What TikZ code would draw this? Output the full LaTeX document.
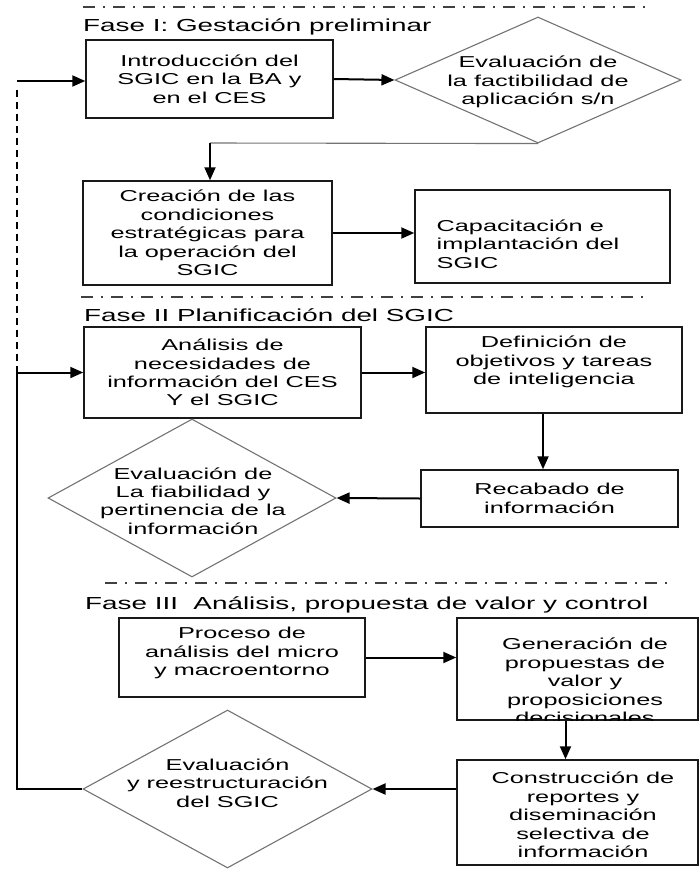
\documentclass[tikz,border=0pt]{standalone}
\usepackage{fontspec}
\setmainfont[FakeStretch=1.6]{Liberation Sans}
\usetikzlibrary{
    arrows.meta,
    positioning,
    shapes.geometric
}
\tikzset{
    % Colors
    box color/.style={black!90},
    decision color/.style={black!55},
    phase color/.style={black!75},
    %
    % Text
    box text/.style={align=center,inner sep=0pt,font=\fontsize{15.8}{18.4}\selectfont},
    phase title/.style={anchor=west,inner sep=0pt,font=\fontsize{17.4}{20}\selectfont},
    phase line/.style={phase color,line width=1.5pt,dash pattern=on 12pt off 8pt on 2pt off 8pt},
    %
    % Nodes
    process/.style={draw,box color,text=black,rectangle,line width=1.5pt,box text},
    decision/.style={draw,decision color,diamond,line width=1.1pt,inner sep=0pt},
    %
    % Arrows
    arrow tip/.tip={Triangle[length=13pt,width=11pt]},
    arr/.style={->,>={arrow tip},line width=2pt},
    thin link/.style={decision color,line width=1.1pt},
    back link/.style={line width=1.5pt},
    dashed link/.style={line width=1.5pt,dash pattern=on 7pt off 5pt}
}

\begin{document}
\begin{tikzpicture}[x=1pt,y=-1pt]
    \useasboundingbox (0,0) rectangle (699,871);

    % Fase I
    \draw[phase line] (83,7) -- (652,7);
    \node[phase title] (fase1) at (83,27) {Fase I: Gestación preliminar};

    \node[process,minimum width=247,minimum height=78] (intro) at (209.5,79)
        {Introducción del\\SGIC en la BA y\\en el CES};
    \node[decision,minimum width=286,minimum height=126] (factib) at (538,80) {};
    \node[box text] (factib text) at (538,82) {Evaluación de\\la factibilidad de\\aplicación s/n};
    \node[process,minimum width=249,minimum height=104] (creacion) at (207.5,233)
        {Creación de las\\condiciones\\estratégicas para\\la operación del\\SGIC};
    \node[process,minimum width=255,minimum height=93] (capacit) at (542.5,236.5) {};
    \node[box text,align=left] (capacit text) at (528,244) {Capacitación e\\implantación del\\SGIC};

    \draw[arr] (intro.east) -- (factib.west);
    \coordinate (f1 bend) at (210,143);
    \draw[thin link] (factib.south) -- (f1 bend);
    \draw[arr] (f1 bend) -- (f1 bend |- creacion.north);
    \draw[arr] (creacion.east) -- (creacion.east -| capacit.west);

    % Fase II
    \draw[phase line] (81,297) -- (650,297);
    \node[phase title] (fase2) at (84,315) {Fase II Planificación del SGIC};

    \node[process,minimum width=277,minimum height=91] (analisis) at (222.5,372.5)
        {Análisis de\\necesidades de\\información del CES\\Y el SGIC};
    \node[process,minimum width=256,minimum height=86] (definic) at (554,370) {};
    \node[box text] (definic text) at (554,362) {Definición de\\objetivos y tareas\\de inteligencia};
    \node[process,minimum width=257,minimum height=57] (recab) at (549.5,498.5)
        {Recabado de\\información};
    \node[decision,minimum width=288,minimum height=158] (fiab) at (192,498) {};
    \node[box text] (fiab text) at (193,501) {Evaluación de\\La fiabilidad y\\pertinencia de la\\información};

    \draw[arr] (analisis.east) -- (analisis.east -| definic.west);
    \draw[arr] ([xshift=-11pt]definic.south) -- ([xshift=-11pt]definic.south |- recab.north);
    \draw[arr] (recab.west) -- (fiab.east);

    % Fase III
    \draw[phase line] (105,583) -- (673,583);
    \node[phase title] (fase3) at (85,605) {Fase III\ \ Análisis, propuesta de valor y control};

    \node[process,minimum width=246,minimum height=79] (proceso) at (242,657.5) {};
    \node[box text] (proceso text) at (242,653) {Proceso de\\análisis del micro\\y macroentorno};
    \node[process,minimum width=241,minimum height=102] (generac) at (577.5,669) {};
    \begin{scope}
        \clip (generac.south west) rectangle (generac.north east);
        \node[box text] (generac text) at (585,681) {Generación de\\propuestas de\\valor y\\proposiciones\\decisionales};
    \end{scope}
    \node[process,minimum width=241,minimum height=105] (constr) at (577.5,812.5) {};
    \node[box text] (constr text) at (583,815) {Construcción de\\reportes y\\diseminación\\selectiva de\\información};
    \node[decision,minimum width=289,minimum height=158] (reestr) at (227.5,789) {};
    \node[box text] (reestr text) at (227.5,783) {Evaluación\\y reestructuración\\del SGIC};

    \draw[arr] (proceso.east) -- (proceso.east -| generac.west);
    \draw[arr] ([xshift=-12pt]generac.south) -- ([xshift=-12pt]generac.south |- constr.north);
    \draw[arr] (constr.west |- reestr.east) -- (reestr.east);

    % Retorno
    \coordinate (back) at (17,789);
    \draw[back link] (reestr.west) -- (back) -- (back |- analisis.west);
    \draw[arr] (back |- analisis.west) -- (analisis.west);
    \draw[dashed link] (back |- analisis.west) -- (17,88);
    \draw[arr] (17,81) -- (intro.west |- 17,81);
\end{tikzpicture}
\end{document}
